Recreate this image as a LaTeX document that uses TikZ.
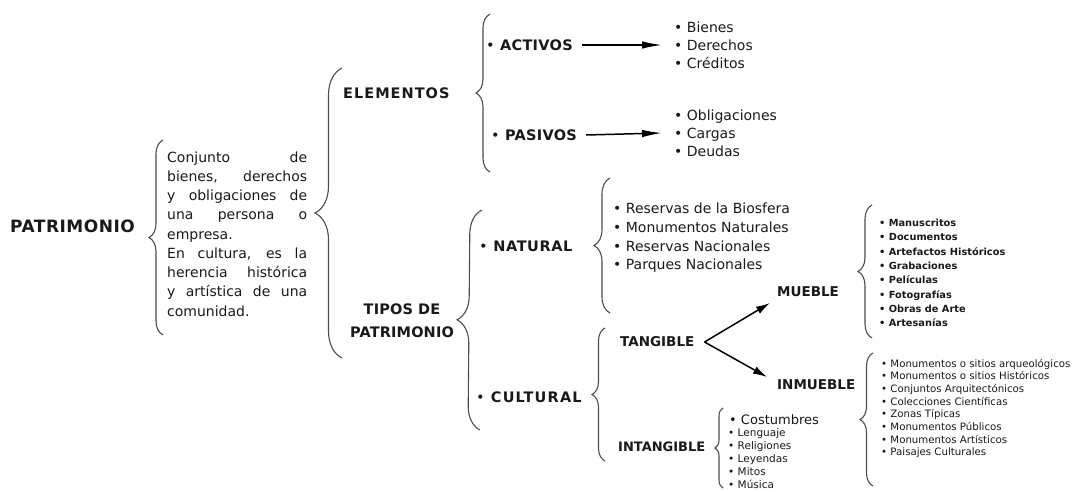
\documentclass[tikz,border=0pt]{standalone}
\usepackage{fontspec}
\setmainfont{DejaVu Sans}
\usetikzlibrary{arrows.meta,positioning,decorations.pathreplacing}
\newcommand{\jl}[1]{\makebox[140pt][s]{#1}}

\begin{document}
\begin{tikzpicture}[x=1pt,y=-1pt,inner sep=0pt,text=black!90,
	llave/.style={draw=black!70,line width=1.1pt,decorate,decoration={brace,amplitude=#1}},
	titulo/.style 2 args={font=\fontsize{#1}{23}\selectfont\bfseries\addfontfeature{LetterSpace=#2}},
	lista/.style 2 args={align=left,anchor=west,font=\fontsize{#1}{#2}\selectfont},
	flecha/.style={line width=1.5pt,-{Latex[length=20pt,width=7.5pt]}},
	flechab/.style={line width=1.5pt,-{Latex[length=14pt,width=8pt]}}]
		\useasboundingbox (0,0) rectangle (1074,492);
		\node[titulo={17}{3},anchor=west] (patri) at (10,226) {PATRIMONIO};
		\draw[llave=14pt] (163,335) -- (163,140);
		\node[anchor=west,align=left,font=\fontsize{14}{19.25}\selectfont] (defi) at (167,234) {\jl{Conjunto de}\\ \jl{bienes, derechos}\\ \jl{y obligaciones de}\\ \jl{una persona o}\\ empresa.\\ \jl{En cultura, es la}\\ \jl{herencia histórica}\\ \jl{y artística de una}\\ comunidad.};
		\draw[llave=27pt] (342,358) -- (342,68);
		\node[titulo={14.5}{7},anchor=west] (elem) at (343,93) {ELEMENTOS};
		\node[titulo={14.5}{1},align=center] (tipos) at (402,321) {TIPOS DE\\PATRIMONIO};
		\draw[llave=14pt] (490,172) -- (490,14);
		\node[titulo={14.5}{2},anchor=west] (act) at (486,45) {{\mdseries•} ACTIVOS};
		\node[titulo={14.5}{2},anchor=west] (pas) at (491,135) {{\mdseries•} PASIVOS};
		\node[lista={14}{18}] (bien) at (674,45) {• Bienes\\• Derechos\\• Créditos};
		\node[lista={14}{18}] (obli) at (674,133) {• Obligaciones\\• Cargas\\• Deudas};
		\draw[flecha] ([xshift=9pt]act.east) -- ([xshift=-12pt]bien.west);
		\draw[flecha] ([xshift=9pt]pas.east) -- ([xshift=-12pt]obli.west);
		\draw[llave=24pt] (480,430) -- (482,210);
		\node[titulo={14.5}{4},anchor=west] (natu) at (479,246) {{\mdseries•} NATURAL};
		\node[titulo={14.5}{8},anchor=west] (cult) at (476,397) {{\mdseries•} CULTURAL};
		\draw[llave=16pt] (610,313) -- (610,178);
		\node[lista={14}{18.7}] (natl) at (613,238) {• Reservas de la Biosfera\\• Monumentos Naturales\\• Reservas Nacionales\\• Parques Nacionales};
		\draw[llave=13pt] (605,461) -- (605,328);
		\node[titulo={13.5}{0},anchor=west] (tang) at (620,342) {TANGIBLE};
		\node[titulo={13}{0},anchor=west] (intang) at (618,447) {INTANGIBLE};
		\node[titulo={13.5}{0},anchor=west] (mueb) at (777,292) {MUEBLE};
		\node[titulo={13.5}{0},anchor=west] (inmueb) at (777,385) {INMUEBLE};
		\coordinate (vert) at ([xshift=10pt]tang.east);
		\draw[flechab] (vert) -- ([xshift=-7pt,yshift=-11pt]mueb.west);
		\draw[flechab] (vert) -- ([xshift=-10pt,yshift=8pt]inmueb.west);
		\draw[llave=14pt] (872,338) -- (872,205);
		\node[lista={9.8}{14.3},font=\fontsize{9.8}{14.3}\selectfont\bfseries] (muebl) at (879,273) {• Manuscritos\\• Documentos\\• Artefactos Históricos\\• Grabaciones\\• Películas\\• Fotografías\\• Obras de Arte\\• Artesanías};
		\draw[llave=13pt] (873,486) -- (873,353);
		\node[lista={10.2}{12.7}] (inmuebl) at (881,408.5) {• Monumentos o sitios arqueológicos\\• Monumentos o sitios Históricos\\• Conjuntos Arquitectónicos\\• Colecciones Científicas\\• Zonas Típicas\\• Monumentos Públicos\\• Monumentos Artísticos\\• Paisajes Culturales};
		\draw[llave=8pt] (723,488) -- (723,408);
		\node[lista={13}{16}] (cost) at (729,420) {• Costumbres};
		\node[lista={10.5}{13}] (intl) at (728,459) {• Lenguaje\\• Religiones\\• Leyendas\\• Mitos\\• Música};
		\end{tikzpicture}
\end{document}
